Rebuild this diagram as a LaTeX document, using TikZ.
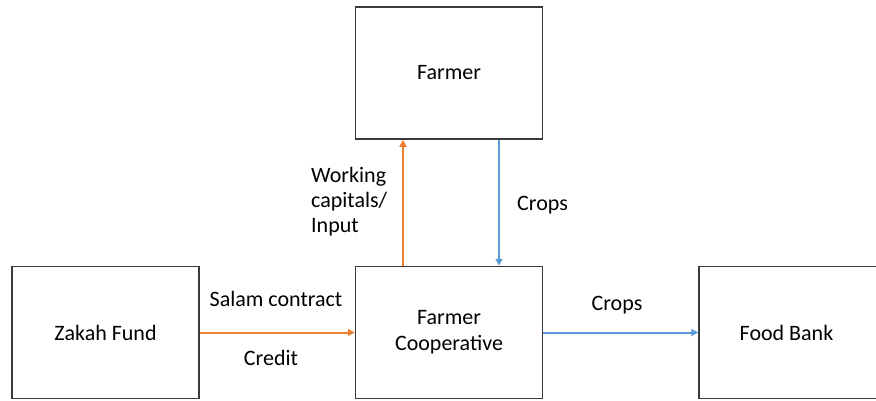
\documentclass[tikz,border=0pt]{standalone}
\usepackage{fontspec}
\setmainfont{Carlito}
\usetikzlibrary{arrows.meta}
\definecolor{flowor}{HTML}{ED7D31}
\definecolor{flowbl}{HTML}{5B9BD5}
\definecolor{edge}{HTML}{3A3A3A}
\tikzset{
  box/.style={draw=edge, line width=1.5pt, fill=white, minimum width=187pt,
    minimum height=132pt, inner sep=0pt, align=center,
    font=\fontsize{22}{26}\selectfont},
  lbl/.style={inner sep=0pt, font=\fontsize{22}{25}\selectfont},
  orflow/.style={draw=flowor, line width=2pt, -{Triangle[length=7pt,width=7pt]}},
  blflow/.style={draw=flowbl, line width=2pt, -{Triangle[length=7pt,width=7pt]}}
}
\begin{document}
\begin{tikzpicture}[x=1pt,y=-1pt]
  \useasboundingbox (0,0) rectangle (876,400);
  \fill[white] (0,0) rectangle (876,400);

  \node[box] (farmer) at (449,73) {Farmer};
  \node[box] (zakah) at (105.5,332.5) {Zakah Fund};
  \node[box] (coop) at (449,332.5) {Farmer\\Cooperative};
  \node[box] (food) at (792.5,332.5) {\hspace*{-12pt}Food Bank};

  \draw[orflow] (zakah.east) -- (coop.west);
  \draw[orflow] ([xshift=-46pt]coop.north) -- ([xshift=-46pt]farmer.south);
  \draw[blflow] ([xshift=50pt]farmer.south) -- ([xshift=50pt]coop.north);
  \draw[blflow] (coop.east) -- (food.west);

  \node[lbl] (salam) at (276,299) {Salam contract};
  \node[lbl] (credit) at (271,358) {Credit};
  \node[lbl, anchor=north west, align=left] (wc) at (311,167) {Working\\capitals/\\Input};
  \node[lbl, anchor=west] (crops1) at (517,205) {Crops};
  \node[lbl] (crops2) at (617,305) {Crops};
\end{tikzpicture}
\end{document}
